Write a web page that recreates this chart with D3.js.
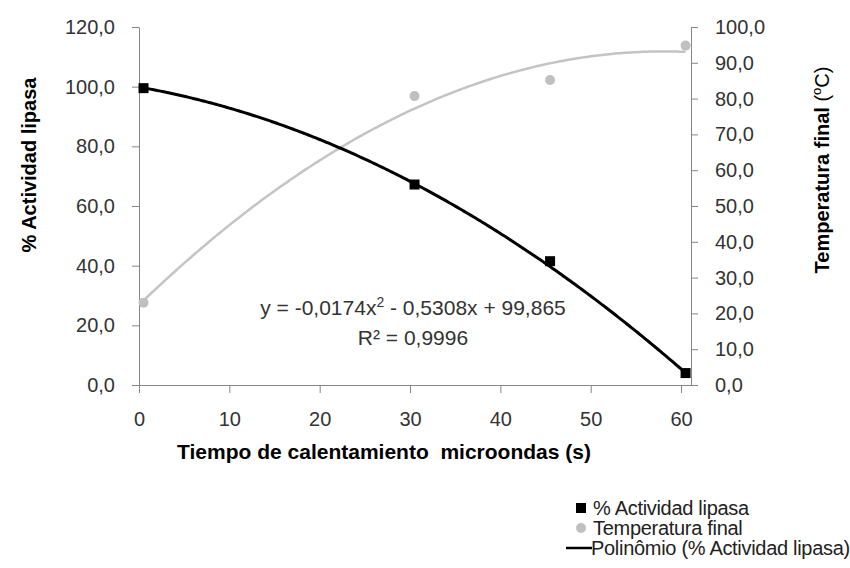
<!DOCTYPE html>
<html>
<head>
<meta charset="utf-8">
<script src="https://cdn.jsdelivr.net/npm/d3@7"></script>
<style>
  body { margin: 0; background: #fff; }
  svg { font-family: "Liberation Sans", Arial, sans-serif; }
  .axis path, .axis line { stroke: #868686; }
  .axis text { fill: #333; font-size: 20px; }
</style>
</head>
<body>
<div class="visuals"></div>
<script>
// datos
var tiempo = [0.5, 30.5, 45.5, 60.5];
var actividad = [99.5, 67.2, 41.5, 4.0];
var temperatura = [23.0, 80.7, 85.2, 94.8];
var coefActividad = [-0.0174, -0.5308, 99.865]; // x^2, x, c
var xTicks = [0, 10, 20, 30, 40, 50, 60];
var yTicksLeft = [0, 20, 40, 60, 80, 100, 120];
var yTicksRight = [0, 10, 20, 30, 40, 50, 60, 70, 80, 90, 100];
var legendLabels = ['% Actividad lipasa', 'Temperatura final', 'Polinômio (% Actividad lipasa)'];

var Grafico = (function(){

  return function(selector){

    var svg = d3.select(selector).append('svg')
      .attr('width', 850)
      .attr('height', 568);

    var x = d3.scaleLinear().domain([0, 61.1]).range([139, 691]);
    var yL = d3.scaleLinear().domain([0, 120]).range([385, 27]);
    var yR = d3.scaleLinear().domain([0, 100]).range([385, 27]);

    var fmt = function(d){ return d3.format('.1f')(d).replace('.', ','); };

    // ajuste cuadratico por minimos cuadrados (linea de tendencia gris)
    var fitQuad = function(xs, ys){
      var s = [0,0,0,0,0], t = [0,0,0];
      xs.forEach(function(xv, i){
        for (var k = 0; k < 5; k++) s[k] += Math.pow(xv, k);
        for (var j = 0; j < 3; j++) t[j] += ys[i] * Math.pow(xv, j);
      });
      var m = [[s[0], s[1], s[2], t[0]], [s[1], s[2], s[3], t[1]], [s[2], s[3], s[4], t[2]]];
      for (var c = 0; c < 3; c++) {
        for (var r = c + 1; r < 3; r++) {
          var f = m[r][c] / m[c][c];
          for (var q = c; q < 4; q++) m[r][q] -= f * m[c][q];
        }
      }
      var b = [0,0,0];
      for (var r2 = 2; r2 >= 0; r2--) {
        var v = m[r2][3];
        for (var q2 = r2 + 1; q2 < 3; q2++) v -= m[r2][q2] * b[q2];
        b[r2] = v / m[r2][r2];
      }
      return function(xv){ return b[0] + b[1] * xv + b[2] * xv * xv; };
    };

    var polyAct = function(xv){ return coefActividad[0] * xv * xv + coefActividad[1] * xv + coefActividad[2]; };
    var polyTemp = fitQuad(tiempo, temperatura);

    var initialize = function(){
      svg.append('g').attr('class', 'axis')
        .attr('transform', 'translate(0,385)')
        .call(d3.axisBottom(x).tickValues(xTicks).tickSize(8).tickSizeOuter(0).tickPadding(19).tickFormat(d3.format('d')));

      svg.append('g').attr('class', 'axis')
        .attr('transform', 'translate(139,0)')
        .call(d3.axisLeft(yL).tickValues(yTicksLeft).tickSize(7).tickSizeOuter(0).tickPadding(17).tickFormat(fmt));

      svg.append('g').attr('class', 'axis')
        .attr('transform', 'translate(691,0)')
        .call(d3.axisRight(yR).tickValues(yTicksRight).tickSize(7).tickSizeOuter(0).tickPadding(17).tickFormat(fmt));

      svg.selectAll('.axis text').attr('font-family', null);

      // titulos
      svg.append('text')
        .attr('x', 384).attr('y', 459)
        .attr('text-anchor', 'middle')
        .style('white-space', 'pre')
        .style('font-size', '21px').style('font-weight', 'bold')
        .text('Tiempo de calentamiento  microondas (s)');

      svg.append('text')
        .attr('transform', 'translate(36,165) rotate(-90)')
        .attr('text-anchor', 'middle')
        .style('font-size', '20px').style('font-weight', 'bold')
        .text('% Actividad lipasa');

      var tr = svg.append('text')
        .attr('transform', 'translate(829,170) rotate(-90)')
        .attr('text-anchor', 'middle')
        .style('font-size', '20px').style('font-weight', 'bold');
      tr.append('tspan').text('Temperatura final ');
      tr.append('tspan').style('font-weight', 'normal').text('(');
      tr.append('tspan').style('font-weight', 'normal').style('font-size', '13px').attr('dy', '-8').text('o');
      tr.append('tspan').style('font-weight', 'normal').attr('dy', '8').text('C)');
    };

    this.draw = function(){
      var xs = d3.range(tiempo[0], tiempo[tiempo.length - 1] + 0.01, 0.25);

      svg.append('path')
        .datum(xs)
        .attr('d', d3.line().x(function(d){ return x(d); }).y(function(d){ return yR(polyTemp(d)); }))
        .style('fill', 'none')
        .style('stroke', '#c4c4c4')
        .style('stroke-width', '2.5px');

      svg.append('path')
        .datum(xs)
        .attr('d', d3.line().x(function(d){ return x(d); }).y(function(d){ return yL(polyAct(d)); }))
        .style('fill', 'none')
        .style('stroke', 'black')
        .style('stroke-width', '3px');

      svg.selectAll('circle.temp')
        .data(tiempo)
      .enter().append('circle')
        .attr('class', 'temp')
        .attr('cx', function(d){ return x(d); })
        .attr('cy', function(d, i){ return yR(temperatura[i]); })
        .attr('r', 5)
        .style('fill', '#c0c0c0');

      svg.selectAll('rect.act')
        .data(tiempo)
      .enter().append('rect')
        .attr('class', 'act')
        .attr('x', function(d){ return x(d) - 5; })
        .attr('y', function(d, i){ return yL(actividad[i]) - 5; })
        .attr('width', 10)
        .attr('height', 10)
        .style('fill', 'black');

      // ecuacion
      var eq = svg.append('text')
        .attr('x', 413).attr('y', 315)
        .attr('text-anchor', 'middle')
        .style('font-size', '21px').style('fill', '#333');
      eq.append('tspan').text('y = -0,0174x');
      eq.append('tspan').attr('dy', -8).style('font-size', '14px').text('2');
      eq.append('tspan').attr('dy', 8).text(' - 0,5308x + 99,865');

      svg.append('text')
        .attr('x', 413).attr('y', 345)
        .attr('text-anchor', 'middle')
        .style('font-size', '21px').style('fill', '#333')
        .text('R² = 0,9996');

      // leyenda
      var lg = svg.append('g');
      var rows = [508, 528, 548];
      lg.append('rect').attr('x', 576).attr('y', rows[0] - 5).attr('width', 10).attr('height', 10).style('fill', 'black');
      lg.append('circle').attr('cx', 581).attr('cy', rows[1]).attr('r', 5).style('fill', '#c0c0c0');
      lg.append('line').attr('x1', 566).attr('x2', 592).attr('y1', rows[2]).attr('y2', rows[2])
        .style('stroke', 'black').style('stroke-width', '2.5px');
      lg.selectAll('text')
        .data(legendLabels)
      .enter().append('text')
        .attr('x', function(d, i){ return i === 2 ? 591 : 593; })
        .attr('y', function(d, i){ return rows[i] + 7; })
        .style('font-size', '20px').style('fill', '#222')
        .style('letter-spacing', '-0.3px')
        .text(function(d){ return d; });
    };

    initialize();
  };

}());

document.addEventListener('DOMContentLoaded', function(){
  var chart = new Grafico('.visuals');
  chart.draw();
});
</script>
</body>
</html>
